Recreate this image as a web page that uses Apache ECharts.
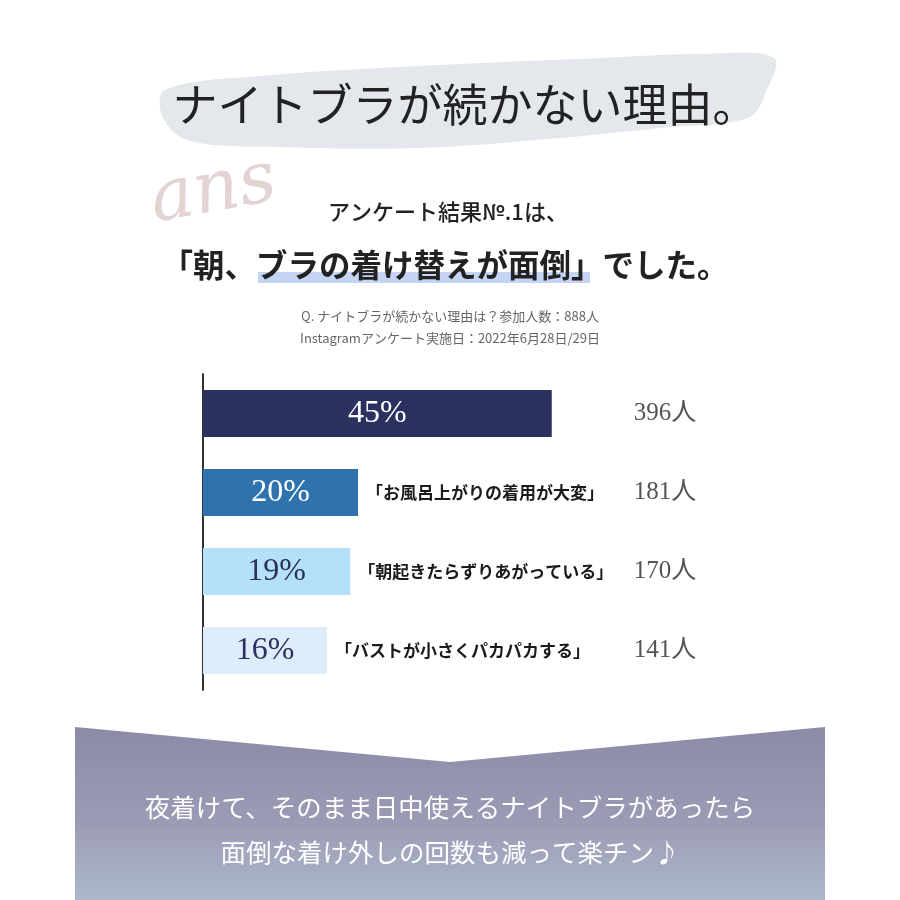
<!DOCTYPE html>
<html>
<head>
<meta charset="utf-8">
<script src="https://cdn.jsdelivr.net/npm/echarts@6/dist/echarts.min.js"></script>
<style>html,body{margin:0;padding:0;background:#fff;}#c{width:900px;height:900px;}</style>
</head>
<body>
<div id="c"></div>
<script>
// ---- data ----
var categories = ['朝、ブラの着け替えが面倒', 'お風呂上がりの着用が大変', '朝起きたらずりあがっている', 'バストが小さくパカパカする'];
var percents = [45, 20, 19, 16];
var counts = [396, 181, 170, 141];
var reasonLabels = ['', '「お風呂上がりの着用が大変」', '「朝起きたらずりあがっている」', '「バストが小さくパカパカする」'];
var barColors = ['#2c305e', '#2e73ad', '#b4e0fa', '#deedfc'];
var pctColors = ['#ffffff', '#ffffff', '#2c305e', '#2c305e'];
var titleText = 'ナイトブラが続かない理由。';
var leadText = 'アンケート結果№.1は、';
var headlineText = '「朝、ブラの着け替えが面倒」でした。';
var noteLines = ['Q. ナイトブラが続かない理由は？参加人数：888人', 'Instagramアンケート実施日：2022年6月28日/29日'];
var footerLines = ['夜着けて、そのまま日中使えるナイトブラがあったら', '面倒な着け外しの回数も減って楽チン♪'];

var JP = '"Noto Sans CJK JP", "Noto Sans", sans-serif';
var SERIF = '"Liberation Serif", "DejaVu Serif", "Noto Sans CJK JP", serif';

var chart = echarts.init(document.getElementById('c'));

var barData = percents.map(function (v, i) {
  return {
    value: v,
    itemStyle: { color: barColors[i] },
    label: { color: pctColors[i] }
  };
});

var option = {
  backgroundColor: '#ffffff',
  animation: false,
  grid: { left: 203, top: 374, width: 434, height: 316 },
  xAxis: {
    type: 'value', min: 0, max: 56, show: false
  },
  yAxis: [
    {
      type: 'category', data: categories, inverse: true,
      axisLine: { show: true, lineStyle: { color: '#333', width: 2 } },
      axisTick: { show: false }, axisLabel: { show: false }, splitLine: { show: false }
    },
    {
      type: 'category', data: counts.map(function (c) { return c + '人'; }), inverse: true,
      position: 'right',
      axisLine: { show: false }, axisTick: { show: false }, splitLine: { show: false },
      axisLabel: {
        show: true, margin: 28, align: 'center',
        fontFamily: SERIF, fontSize: 25, color: '#555'
      }
    }
  ],
  series: [
    {
      type: 'bar', yAxisIndex: 0, data: barData, barWidth: 47,
      label: {
        show: true, position: 'inside', fontFamily: SERIF, fontSize: 32,
        formatter: function (p) { return percents[p.dataIndex] + '%'; }
      }
    },
    {
      type: 'bar', yAxisIndex: 0, data: percents, barWidth: 47, barGap: '-100%',
      itemStyle: { color: 'rgba(0,0,0,0)' }, silent: true,
      label: {
        show: true, position: 'right', distance: 8,
        fontFamily: JP, fontSize: 17, fontWeight: 'bold', color: '#1a1a1a',
        formatter: function (p) { return reasonLabels[p.dataIndex]; }
      }
    }
  ],
  graphic: [
    // brush stroke behind title
    {
      type: 'polygon', z: 0,
      shape: {
        smooth: 0.35,
        points: [[165, 90], [260, 76], [420, 66], [600, 58], [700, 54], [774, 58], [766, 92], [748, 118], [660, 128], [560, 138], [420, 148], [280, 147], [190, 141], [163, 118]]
      },
      style: { fill: '#e4e8ed' }
    },
    {
      type: 'text', x: 465, y: 105,
      style: { text: titleText, font: 'normal 45px ' + JP, fill: '#222', align: 'center', verticalAlign: 'middle' }
    },
    // script "ans"
    {
      type: 'text', x: 145, y: 168, rotation: 0.18,
      style: { text: 'ans', font: 'italic 72px "DejaVu Serif", serif', fill: '#e4d3d3' }
    },
    {
      type: 'text', x: 448, y: 212,
      style: { text: leadText, font: '500 22px ' + JP, fill: '#222', align: 'center', verticalAlign: 'middle' }
    },
    // highlight under headline
    {
      type: 'rect', shape: { x: 258, y: 272, width: 332, height: 11 },
      style: { fill: '#c6d4f4' }
    },
    {
      type: 'text', x: 445, y: 265,
      style: { text: headlineText, font: 'bold 31.5px ' + JP, fill: '#222', align: 'center', verticalAlign: 'middle' }
    },
    {
      type: 'text', x: 450, y: 316,
      style: { text: noteLines[0], font: 'normal 13px ' + JP, fill: '#666', align: 'center', verticalAlign: 'middle' }
    },
    {
      type: 'text', x: 450, y: 338,
      style: { text: noteLines[1], font: 'normal 13px ' + JP, fill: '#666', align: 'center', verticalAlign: 'middle' }
    },
    // bottom panel
    {
      type: 'polygon', z: 0,
      shape: { points: [[75, 727], [450, 762], [825, 727], [825, 900], [75, 900]] },
      style: {
        fill: new echarts.graphic.LinearGradient(0, 0, 0, 1, [
          { offset: 0, color: '#8c8ba7' },
          { offset: 0.55, color: '#9c9bb6' },
          { offset: 1, color: '#abb8c9' }
        ])
      }
    },
    {
      type: 'text', x: 450, y: 807,
      style: { text: footerLines[0], font: 'normal 25.5px ' + JP, fill: '#ffffff', align: 'center', verticalAlign: 'middle' }
    },
    {
      type: 'text', x: 450, y: 852,
      style: { text: footerLines[1], font: 'normal 25.5px ' + JP, fill: '#ffffff', align: 'center', verticalAlign: 'middle' }
    }
  ]
};
chart.setOption(option);
</script>
</body>
</html>
